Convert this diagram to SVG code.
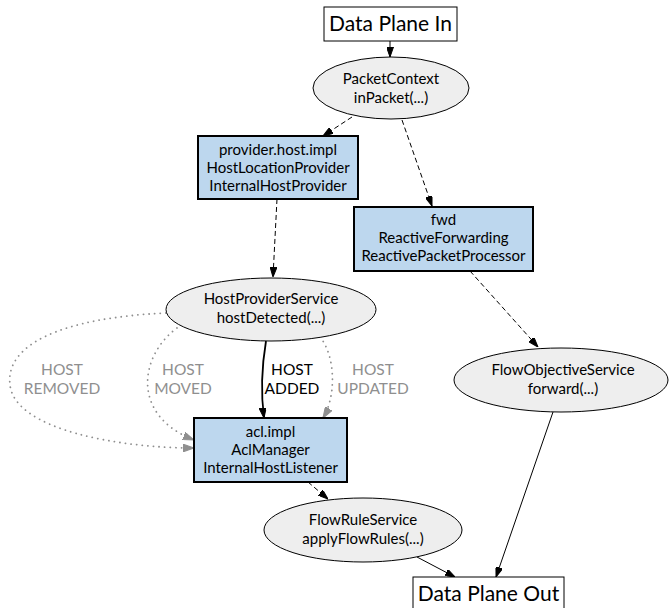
<svg xmlns="http://www.w3.org/2000/svg" width="669" height="608" viewBox="0 0 669 608">
<style>
text{font-family:Lato,"Open Sans","Liberation Sans",sans-serif;text-anchor:middle;fill:#000}
.n{font-size:15px}
.big{font-size:21px}
.lbl{font-size:15.5px}
.g{fill:#8f8f8f}
.ell{fill:#eeeeee;stroke:#000;stroke-width:1}
.blue{fill:#bdd7ee;stroke:#000;stroke-width:2}
.plain{fill:#fff;stroke:#000;stroke-width:1}
.e{fill:none;stroke:#000;stroke-width:1}
.d{stroke-dasharray:5,3}
.b{stroke-width:1.8}
.dot{fill:none;stroke:#8f8f8f;stroke-width:1.8;stroke-dasharray:0.1,5.5;stroke-linecap:round}
</style>
<defs>
<marker id="ah" viewBox="0 0 10 7" refX="10" refY="3.5" markerWidth="10" markerHeight="7" markerUnits="userSpaceOnUse" orient="auto"><path d="M0,0 L10,3.5 L0,7 z" fill="#000" stroke="#000" stroke-width="1"/></marker>
<marker id="ahg" viewBox="0 0 10 7" refX="10" refY="3.5" markerWidth="11" markerHeight="8" markerUnits="userSpaceOnUse" orient="auto"><path d="M0,0 L10,3.5 L0,7 z" fill="#8f8f8f" stroke="#8f8f8f" stroke-width="1"/></marker>
</defs>
<g id="edges">
<path class="e" d="M390,41 L390,57" marker-end="url(#ah)"/>
<path class="e d" d="M352,117 L323,136" marker-end="url(#ah)"/>
<path class="e d" d="M402,120 L432,206" marker-end="url(#ah)"/>
<path class="e d" d="M277,199 L273,277" marker-end="url(#ah)"/>
<path class="e d" d="M470,271 L538,347" marker-end="url(#ah)"/>
<path class="e b" d="M266,341 C262,365 261,395 264,418" marker-end="url(#ah)"/>
<path class="dot" d="M320,337 C335,355 337,395 323,418" marker-end="url(#ahg)"/>
<path class="dot" d="M177,328 C140,355 130,415 194,440" marker-end="url(#ahg)"/>
<path class="dot" d="M166,313 C60,318 5,345 10,385 C15,430 120,448 194,448" marker-end="url(#ahg)"/>
<path class="e d" d="M308,482 L328,499" marker-end="url(#ah)"/>
<path class="e" d="M417,557 L455,577" marker-end="url(#ah)"/>
<path class="e" d="M553,412 L496,577" marker-end="url(#ah)"/>
<text class="lbl g" x="62" y="375">HOST</text>
<text class="lbl g" x="62" y="394">REMOVED</text>
<text class="lbl g" x="183" y="375">HOST</text>
<text class="lbl g" x="183" y="394">MOVED</text>
<text class="lbl" x="292" y="375">HOST</text>
<text class="lbl" x="292" y="394">ADDED</text>
<text class="lbl g" x="373" y="375">HOST</text>
<text class="lbl g" x="373" y="394">UPDATED</text>
</g>
<g id="dataPlaneIn">
<rect class="plain" x="324" y="7" width="133" height="34"/>
<text class="big" x="390.5" y="31">Data Plane In</text>
</g>
<g id="packetContext">
<ellipse class="ell" cx="391" cy="88" rx="78" ry="31"/>
<text class="n" x="391" y="84">PacketContext</text>
<text class="n" x="391" y="103">inPacket(...)</text>
</g>
<g id="providerHost">
<rect class="blue" x="198" y="136" width="160" height="63"/>
<text class="n" x="278" y="155">provider.host.impl</text>
<text class="n" x="278" y="173">HostLocationProvider</text>
<text class="n" x="278" y="191">InternalHostProvider</text>
</g>
<g id="fwd">
<rect class="blue" x="354" y="207" width="179" height="64"/>
<text class="n" x="443.5" y="225">fwd</text>
<text class="n" x="443.5" y="243">ReactiveForwarding</text>
<text class="n" x="443.5" y="261">ReactivePacketProcessor</text>
</g>
<g id="hostProviderService">
<ellipse class="ell" cx="271" cy="309.5" rx="105" ry="31.5"/>
<text class="n" x="271" y="304">HostProviderService</text>
<text class="n" x="271" y="323">hostDetected(...)</text>
</g>
<g id="flowObjectiveService">
<ellipse class="ell" cx="561" cy="380" rx="107" ry="32"/>
<text class="n" x="563" y="375">FlowObjectiveService</text>
<text class="n" x="563" y="394">forward(...)</text>
</g>
<g id="aclImpl">
<rect class="blue" x="194" y="418" width="153" height="64"/>
<text class="n" x="270.5" y="437">acl.impl</text>
<text class="n" x="270.5" y="455">AclManager</text>
<text class="n" x="270.5" y="473">InternalHostListener</text>
</g>
<g id="flowRuleService">
<ellipse class="ell" cx="363" cy="530" rx="99" ry="32"/>
<text class="n" x="363" y="525">FlowRuleService</text>
<text class="n" x="363" y="544">applyFlowRules(...)</text>
</g>
<g id="dataPlaneOut">
<rect class="plain" x="413" y="577" width="151" height="34"/>
<text class="big" x="488.5" y="601">Data Plane Out</text>
</g>
</svg>
